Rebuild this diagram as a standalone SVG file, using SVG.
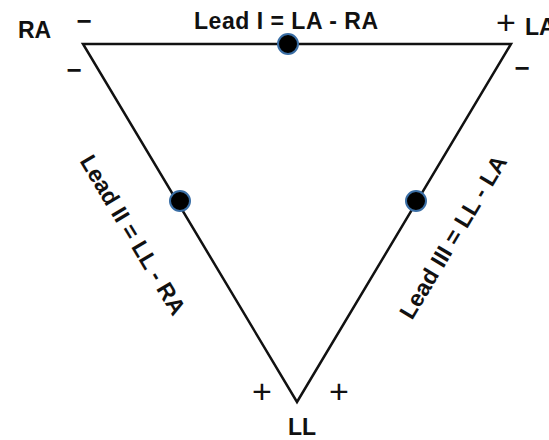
<svg xmlns="http://www.w3.org/2000/svg" width="549" height="440" viewBox="0 0 549 440">
  <style>
    .lbl { font-family: "Liberation Sans", Arial, sans-serif; font-weight: bold; font-size: 23px; fill: #111; }
    .minus { font-family: "Liberation Sans", Arial, sans-serif; font-weight: bold; font-size: 26px; fill: #111; text-anchor: middle; }
    .plus { font-family: "Liberation Sans", Arial, sans-serif; font-size: 34px; fill: #111; text-anchor: middle; }
    .edge { stroke: #111; stroke-width: 2.5; fill: none; stroke-linejoin: miter; }
    .dot { fill: #000; stroke: #3a6ea5; stroke-width: 2; }
  </style>
  <rect width="549" height="440" fill="#fff"/>
  <g id="connectors">
    <path class="edge" d="M83,44 L511,44 L297,402 Z"/>
  </g>
  <g id="lead-I">
    <circle class="dot" cx="288" cy="44" r="10"/>
    <text class="lbl" x="194" y="29" textLength="184" lengthAdjust="spacing">Lead I = LA - RA</text>
  </g>
  <g id="lead-II">
    <circle class="dot" cx="180" cy="201" r="10"/>
    <text class="lbl" transform="translate(133,235) rotate(59)" x="0" y="8" text-anchor="middle" textLength="182" lengthAdjust="spacing">Lead II = LL - RA</text>
  </g>
  <g id="lead-III">
    <circle class="dot" cx="416" cy="201" r="10"/>
    <text class="lbl" transform="translate(453,237) rotate(-59)" x="0" y="8" text-anchor="middle" textLength="186" lengthAdjust="spacing">Lead III = LL - LA</text>
  </g>
  <g id="RA">
    <text class="lbl" x="18" y="38">RA</text>
    <text class="minus" x="84" y="30">−</text>
    <text class="minus" x="74" y="79">−</text>
  </g>
  <g id="LA">
    <text class="lbl" x="525" y="35">LA</text>
    <text class="plus" x="506" y="34">+</text>
    <text class="minus" x="522" y="77">−</text>
  </g>
  <g id="LL">
    <text class="lbl" x="302" y="435" text-anchor="middle">LL</text>
    <text class="plus" x="262" y="403">+</text>
    <text class="plus" x="339" y="403">+</text>
  </g>
</svg>
